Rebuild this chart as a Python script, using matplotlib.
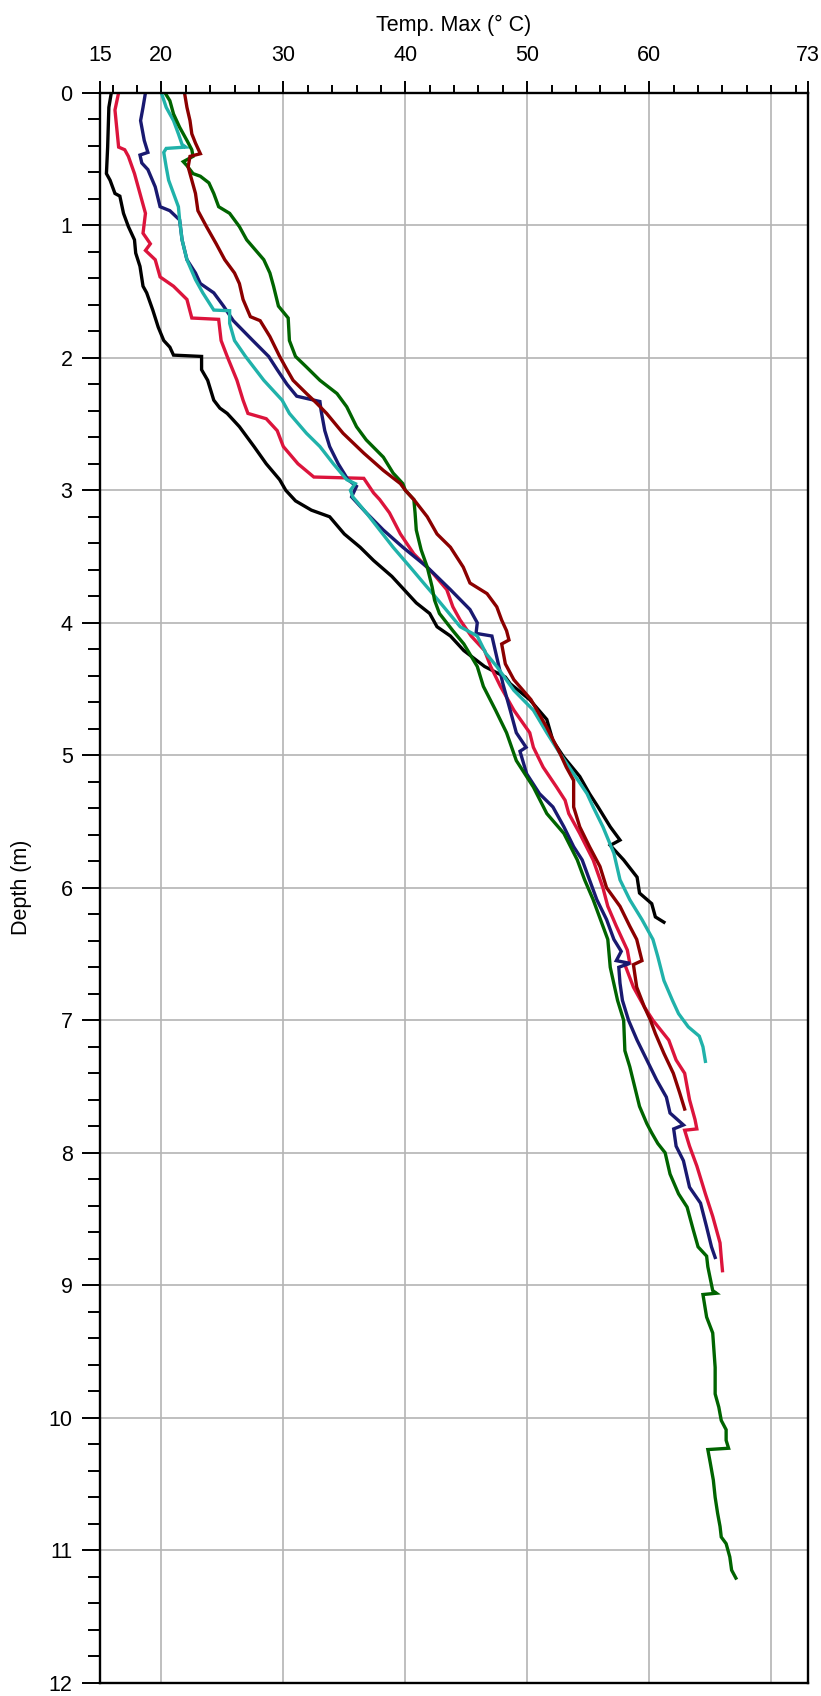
### Setup ###

# plot.py
# Max temperature vs depth profiles, six boreholes

import numpy as np
import matplotlib.pyplot as plt

plt.rcParams['font.family'] = ['Liberation Sans', 'DejaVu Sans']

### Data ###

# black
depth_k = [0, 0.11, 0.41, 0.61, 0.66, 0.76, 0.78, 0.91, 1.01, 1.11, 1.21, 1.31, 1.46, 1.51, 1.64, 1.77, 1.87,
           1.92, 1.98, 1.99, 2.09, 2.17, 2.32, 2.38, 2.42, 2.52, 2.67, 2.8, 2.92, 3.0, 3.08, 3.15, 3.2, 3.33,
           3.43, 3.53, 3.65, 3.75, 3.85, 3.93, 4.03, 4.1, 4.21, 4.33, 4.41, 4.46, 4.58, 4.73, 4.89, 5.01, 5.16,
           5.29, 5.39, 5.54, 5.64, 5.68, 5.79, 5.92, 6.04, 6.12, 6.22, 6.26]
temp_k = [15.9, 15.7, 15.6, 15.5, 15.8, 16.2, 16.6, 16.9, 17.3, 17.8, 17.9, 18.25, 18.5, 18.8, 19.3, 19.75, 20.2,
          20.7, 21.0, 23.3, 23.3, 23.8, 24.3, 24.8, 25.4, 26.4, 27.6, 28.6, 29.7, 30.2, 31.0, 32.3, 33.8, 35.0,
          36.3, 37.4, 38.9, 39.9, 40.9, 42.0, 42.6, 43.7, 44.8, 46.5, 48.2, 48.6, 50.2, 51.6, 52.1, 52.96, 54.3,
          55.1, 55.8, 56.8, 57.6, 56.8, 57.9, 59.0, 59.2, 60.2, 60.5, 61.2]

# crimson
depth_r = [0, 0.13, 0.41, 0.43, 0.48, 0.61, 0.76, 0.91, 1.06, 1.14, 1.19, 1.26, 1.39, 1.46, 1.56, 1.70, 1.71,
           1.87, 1.99, 2.17, 2.32, 2.42, 2.46, 2.55, 2.67, 2.8, 2.9, 2.91, 3.02, 3.07, 3.17, 3.33, 3.48, 3.63,
           3.75, 3.88, 3.98, 4.1, 4.21, 4.33, 4.48, 4.66, 4.83, 4.94, 5.09, 5.24, 5.34, 5.44, 5.59, 5.79, 6.0,
           6.14, 6.29, 6.47, 6.57, 6.58, 6.75, 6.9, 7.0, 7.15, 7.3, 7.4, 7.6, 7.75, 7.82, 7.83, 7.95, 8.1, 8.31,
           8.48, 8.68, 8.79, 8.89]
temp_r = [16.5, 16.2, 16.5, 17.0, 17.3, 17.8, 18.25, 18.7, 18.5, 19.1, 18.7, 19.5, 19.9, 21.0, 22.1, 22.5, 24.7,
          24.9, 25.4, 26.2, 26.7, 27.1, 28.6, 29.5, 30.0, 31.2, 32.5, 36.6, 37.4, 37.9, 38.7, 39.6, 40.7, 42.3,
          43.4, 43.9, 44.5, 45.4, 46.5, 47.0, 47.8, 48.9, 50.2, 50.5, 51.3, 52.4, 53.1, 53.4, 54.3, 55.4, 56.2,
          56.6, 57.3, 58.2, 58.4, 58.0, 58.7, 59.6, 60.3, 61.6, 62.2, 62.9, 63.3, 63.75, 63.9, 62.9, 63.3, 63.9,
          64.6, 65.2, 65.8, 65.9, 66.0]

# navy
depth_b = [0, 0.11, 0.21, 0.36, 0.45, 0.47, 0.53, 0.58, 0.71, 0.86, 0.89, 0.96, 1.11, 1.26, 1.36, 1.44, 1.51,
           1.61, 1.72, 1.87, 1.99, 2.09, 2.2, 2.29, 2.33, 2.4, 2.55, 2.67, 2.8, 2.92, 2.97, 3.05, 3.17, 3.3,
           3.43, 3.58, 3.75, 3.9, 4.0, 4.08, 4.1, 4.26, 4.46, 4.66, 4.83, 4.94, 4.97, 5.14, 5.29, 5.39, 5.54,
           5.69, 5.79, 5.94, 6.09, 6.24, 6.39, 6.48, 6.55, 6.57, 6.6, 6.72, 6.85, 7.0, 7.15, 7.3, 7.45, 7.58,
           7.7, 7.79, 7.82, 7.95, 8.06, 8.26, 8.38, 8.56, 8.71, 8.79]
temp_b = [18.7, 18.5, 18.3, 18.6, 18.9, 18.25, 18.4, 18.9, 19.5, 19.9, 20.7, 21.5, 21.7, 22.1, 22.8, 23.2, 24.3,
          25.1, 25.9, 27.5, 28.8, 29.5, 30.3, 31.1, 33.0, 33.1, 33.4, 33.8, 34.5, 35.3, 36.0, 35.6, 36.8, 38.2,
          39.8, 41.8, 43.7, 45.3, 45.9, 45.8, 47.1, 47.5, 48.0, 48.6, 49.1, 49.9, 49.4, 49.95, 51.0, 52.1, 53.0,
          53.8, 54.5, 55.1, 55.7, 56.5, 57.1, 57.7, 57.3, 58.4, 57.5, 57.6, 57.8, 58.3, 59.0, 59.8, 60.6, 61.4,
          61.7, 62.8, 62.0, 62.2, 62.8, 63.3, 64.2, 64.7, 65.1, 65.4]

# light sea green
depth_t = [0, 0.11, 0.21, 0.31, 0.39, 0.41, 0.42, 0.45, 0.56, 0.66, 0.76, 0.86, 0.96, 1.11, 1.26, 1.41, 1.51,
           1.64, 1.645, 1.74, 1.87, 1.99, 2.17, 2.32, 2.42, 2.57, 2.67, 2.8, 2.92, 2.95, 3.0, 3.05, 3.17, 3.3,
           3.43, 3.58, 3.7, 3.83, 4.03, 4.1, 4.23, 4.33, 4.51, 4.66, 4.83, 4.99, 5.14, 5.29, 5.39, 5.54, 5.74,
           5.94, 6.09, 6.24, 6.39, 6.52, 6.7, 6.85, 6.95, 7.05, 7.12, 7.2, 7.31]
temp_t = [20.0, 20.4, 21.0, 21.4, 21.7, 22.0, 20.4, 20.2, 20.4, 20.6, 21.0, 21.4, 21.5, 21.7, 22.1, 22.8, 23.4,
          24.3, 25.6, 25.6, 26.0, 26.9, 28.4, 29.9, 30.5, 31.9, 33.0, 34.1, 35.2, 35.9, 35.5, 35.7, 36.8, 37.9,
          39.0, 40.4, 41.5, 42.7, 44.5, 45.9, 46.6, 47.5, 48.9, 50.5, 51.6, 52.7, 53.8, 54.9, 55.4, 56.2, 57.1,
          57.6, 58.4, 59.4, 60.3, 60.7, 61.2, 61.9, 62.4, 63.2, 64.1, 64.4, 64.6]

# dark green
depth_g = [0, 0.06, 0.16, 0.26, 0.36, 0.43, 0.48, 0.52, 0.55, 0.61, 0.63, 0.68, 0.76, 0.86, 0.91, 1.01, 1.11,
           1.26, 1.36, 1.46, 1.61, 1.70, 1.87, 1.99, 2.07, 2.17, 2.27, 2.37, 2.52, 2.62, 2.75, 2.87, 2.95, 3.0,
           3.07, 3.17, 3.3, 3.45, 3.58, 3.73, 3.83, 3.93, 4.06, 4.16, 4.33, 4.48, 4.66, 4.83, 5.04, 5.24, 5.44,
           5.59, 5.79, 5.94, 6.09, 6.24, 6.39, 6.6, 6.85, 7.0, 7.23, 7.35, 7.5, 7.65, 7.78, 7.85, 7.93, 8.0,
           8.16, 8.31, 8.41, 8.58, 8.71, 8.78, 8.86, 9.04, 9.06, 9.07, 9.24, 9.36, 9.62, 9.82, 9.92, 10.02,
           10.09, 10.17, 10.23, 10.24, 10.34, 10.47, 10.6, 10.72, 10.82, 10.9, 10.95, 11.05, 11.15, 11.21]
temp_g = [20.3, 20.7, 21.0, 21.5, 22.1, 22.5, 22.6, 21.8, 22.1, 22.6, 23.2, 23.9, 24.3, 24.7, 25.6, 26.4, 27.0,
          28.4, 28.9, 29.2, 29.6, 30.4, 30.5, 31.0, 31.9, 33.0, 34.4, 35.2, 36.0, 36.8, 38.2, 39.0, 39.8, 40.0,
          40.7, 40.8, 40.9, 41.3, 41.8, 42.2, 42.4, 42.8, 43.9, 44.8, 45.9, 46.4, 47.4, 48.3, 49.1, 50.5, 51.6,
          53.0, 54.1, 54.7, 55.4, 56.0, 56.6, 56.8, 57.4, 57.9, 58.0, 58.4, 58.8, 59.2, 59.8, 60.2, 60.7, 61.3,
          61.7, 62.4, 63.1, 63.6, 64.0, 64.7, 64.8, 65.2, 65.5, 64.4, 64.7, 65.2, 65.4, 65.4, 65.7, 65.9,
          66.3, 66.3, 66.5, 64.8, 65.0, 65.25, 65.4, 65.6, 65.8, 65.9, 66.3, 66.6, 66.75, 67.1]

# dark red
depth_m = [0, 0.11, 0.21, 0.31, 0.38, 0.46, 0.48, 0.56, 0.66, 0.76, 0.89, 1.01, 1.14, 1.26, 1.36, 1.44, 1.56,
           1.69, 1.72, 1.84, 1.99, 2.09, 2.17, 2.27, 2.34, 2.42, 2.57, 2.72, 2.85, 2.95, 3.0, 3.07, 3.2, 3.33,
           3.43, 3.58, 3.7, 3.78, 3.88, 3.98, 4.06, 4.13, 4.16, 4.31, 4.43, 4.58, 4.79, 4.99, 5.09, 5.19, 5.39,
           5.54, 5.69, 5.84, 6.0, 6.14, 6.29, 6.39, 6.55, 6.58, 6.75, 6.9, 7.0, 7.1, 7.25, 7.4, 7.55, 7.67]
temp_m = [21.9, 22.1, 22.35, 22.5, 22.8, 23.2, 22.35, 22.2, 22.5, 22.8, 23.0, 23.7, 24.5, 25.2, 26.0, 26.4, 26.7,
          27.3, 28.1, 28.9, 29.7, 30.3, 30.8, 31.9, 32.7, 33.55, 34.9, 36.6, 38.2, 39.6, 40.0, 40.7, 41.8, 42.6,
          43.7, 44.75, 45.3, 46.7, 47.5, 47.9, 48.3, 48.5, 47.9, 48.2, 48.9, 50.3, 51.6, 52.7, 53.2, 53.8, 53.8,
          54.3, 55.1, 55.96, 56.5, 57.6, 58.4, 58.97, 59.4, 58.7, 58.97, 59.6, 60.1, 60.5, 61.2, 61.97, 62.5, 62.9]

series = [(depth_k, temp_k, '#000000'),
          (depth_r, temp_r, '#dc143c'),
          (depth_b, temp_b, '#191970'),
          (depth_t, temp_t, '#20b2aa'),
          (depth_g, temp_g, '#006400'),
          (depth_m, temp_m, '#8b0000')]

xticks = [15, 20, 30, 40, 50, 60, 73]
xgrid = [20, 30, 40, 50, 60, 70]

#%%

### Plotting ###

fig = plt.figure(figsize=(8.21, 16.96), dpi=100)
ax = fig.add_axes([0.1222, 0.0078, 0.8618, 0.9375])

# grid first so curves sit on top
for x in xgrid:
    ax.axvline(x, color='#b4b4b4', linewidth=1.2, zorder=0)
for d in range(1, 12):
    ax.axhline(d, color='#b4b4b4', linewidth=1.2, zorder=0)

for d, t, c in series:
    ax.plot(t, d, color=c, linewidth=2.4, solid_joinstyle='miter', zorder=2)

ax.set_xlim(15, 73)
ax.set_ylim(12, 0)

ax.xaxis.tick_top()
ax.xaxis.set_label_position('top')
ax.set_xticks(xticks)
ax.set_xticks(np.arange(16, 73, 2), minor=True)
ax.set_yticks(np.arange(0, 13, 1))
ax.set_yticks(np.arange(0, 12.01, 0.2), minor=True)

ax.tick_params(axis='x', which='major', length=9, width=1.4, pad=10, labelsize=15.5, direction='out')
ax.tick_params(axis='x', which='minor', length=6, width=1.4, direction='out')
ax.tick_params(axis='y', which='major', length=13, width=1.4, pad=7, labelsize=15.5, direction='out')
ax.tick_params(axis='y', which='minor', length=8.5, width=1.4, direction='out')

for s in ax.spines.values():
    s.set_linewidth(1.7)

ax.set_xlabel('Temp. Max (° C)', fontsize=15.5, labelpad=10)
ax.set_ylabel('Depth (m)', fontsize=15.5, labelpad=12)

plt.savefig('out.png', dpi=100)
